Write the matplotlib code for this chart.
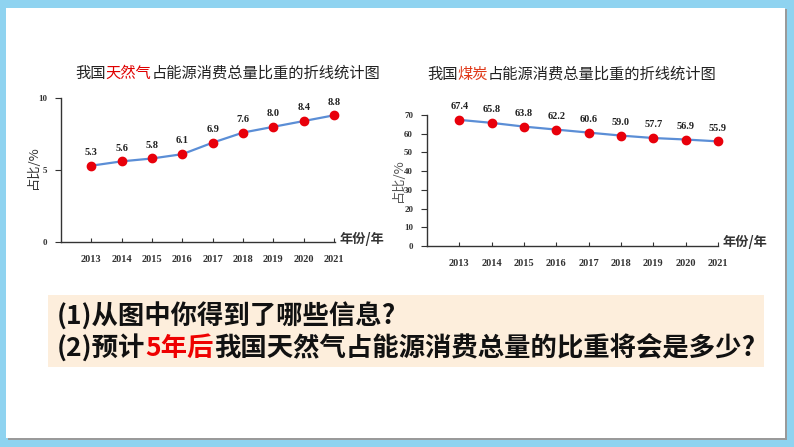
import matplotlib.pyplot as plt
from matplotlib.patches import Rectangle

# data
years = ['2013', '2014', '2015', '2016', '2017', '2018', '2019', '2020', '2021']
gas = [5.3, 5.6, 5.8, 6.1, 6.9, 7.6, 8.0, 8.4, 8.8]
coal = [67.4, 65.8, 63.8, 62.2, 60.6, 59.0, 57.7, 56.9, 55.9]
gas_ticks = [0, 5, 10]
coal_ticks = [0, 10, 20, 30, 40, 50, 60, 70]

CJK = ['Noto Sans CJK SC', 'DejaVu Sans']
SERIF = 'Liberation Serif'
W, H = 794, 447

fig = plt.figure(figsize=(W / 100, H / 100), dpi=100)
fig.patch.set_facecolor('#8fd3f0')

# white slide panel with a little shadow
fig.patches.append(Rectangle((8 / W, 1 - 440 / H), 779 / W, 431 / H,
                             transform=fig.transFigure, facecolor='#9a9a9a',
                             edgecolor='none', zorder=-3))
fig.patches.append(Rectangle((6 / W, 1 - 438 / H), 779 / W, 430 / H,
                             transform=fig.transFigure, facecolor='white',
                             edgecolor='none', zorder=-2))


def px(x, y):
    return x / W, 1 - y / H


def draw_parts(x, y, parts, **kw):
    r = fig.canvas.get_renderer()
    fx, fy = px(x, y)
    for s, c in parts:
        t = fig.text(fx, fy, s, color=c, ha='left', va='center', **kw)
        bb = t.get_window_extent(renderer=r)
        fx += bb.width / fig.bbox.width


def line_chart(rect, values, ticks, ymax, xmax):
    ax = fig.add_axes(rect)
    x = list(range(len(years)))
    ax.plot(x, values, color='#5b8ed6', lw=1.6, zorder=2)
    ax.plot(x, values, 'o', color='#e8000b', ms=6, zorder=3, clip_on=False)
    for xi, v in zip(x, values):
        ax.annotate(f'{v:.1f}', (xi, v), xytext=(0, 9.5), textcoords='offset points',
                    ha='center', va='center', fontsize=7.5, fontweight='bold',
                    family=SERIF, color='#222222', annotation_clip=False)
    ax.set_xlim(-1, xmax)
    ax.set_ylim(0, ymax)
    ax.set_xticks(x)
    ax.set_xticklabels(years, fontsize=7.5, fontweight='bold', family=SERIF, color='#333333')
    ax.set_yticks(ticks)
    ax.set_yticklabels([str(t) for t in ticks], fontsize=6.5, fontweight='bold',
                       family=SERIF, color='#333333')
    ax.tick_params(axis='x', direction='in', length=3, pad=9, color='#333333')
    ax.tick_params(axis='y', direction='out', length=4, pad=6, color='#333333')
    for s in ['top', 'right']:
        ax.spines[s].set_visible(False)
    for s in ['left', 'bottom']:
        ax.spines[s].set_color('#333333')
        ax.spines[s].set_linewidth(1.0)
    ax.patch.set_alpha(0)
    return ax


line_chart([61 / W, 1 - 242 / H, 274 / W, 144 / H], gas, gas_ticks, 10, 8.03)
line_chart([427 / W, 1 - 246 / H, 291 / W, 131 / H], coal, coal_ticks, 70, 8)

# titles
draw_parts(75, 73, [('我国', '#222222'), ('天然气', '#e00000'),
                    ('占能源消费总量比重的折线统计图', '#222222')],
           fontsize=11, family=CJK)
draw_parts(427, 74, [('我国', '#222222'), ('煤炭', '#e03a1a'),
                     ('占能源消费总量比重的折线统计图', '#222222')],
           fontsize=11, family=CJK)

# axis captions
fig.text(*px(33, 167), '占比/%', rotation=90, ha='center', va='center',
         fontsize=9.5, family=CJK, color='#333333')
fig.text(*px(398, 180), '占比/%', rotation=90, ha='center', va='center',
         fontsize=9.5, family=CJK, color='#555555')
fig.text(*px(340, 239), '年份/年', ha='left', va='center', fontsize=9.5,
         fontweight='bold', family=CJK, color='#333333')
fig.text(*px(723, 242), '年份/年', ha='left', va='center', fontsize=9.5,
         fontweight='bold', family=CJK, color='#333333')

# question box
fig.patches.append(Rectangle((48 / W, 1 - 367 / H), 716 / W, 72 / H,
                             transform=fig.transFigure, facecolor='#fdeedc',
                             edgecolor='none', zorder=-1))
draw_parts(57, 317, [('(1)从图中你得到了哪些信息?', '#111111')],
           fontsize=19, fontweight='bold', family=CJK)
draw_parts(57, 348, [('(2)预计', '#111111'), ('5年后', '#ee0000'),
                     ('我国天然气占能源消费总量的比重将会是多少?', '#111111')],
           fontsize=19, fontweight='bold', family=CJK)

fig.savefig('out.png', dpi=100)
